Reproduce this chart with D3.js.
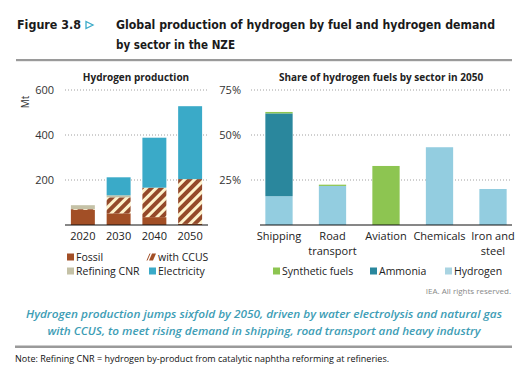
<!DOCTYPE html>
<html>
<head>
<meta charset="utf-8">
<script src="https://cdn.jsdelivr.net/npm/d3@7"></script>
<style>
  html, body { margin: 0; padding: 0; background: #fff; }
  svg { display: block; font-family: "Open Sans", sans-serif; }
</style>
</head>
<body>
<div id="chart"></div>
<script>
// ---- data ----
const years = ["2020", "2030", "2040", "2050"];
const fossil = [68, 52, 35, 5];
const ccus = [3, 71, 131, 199];
const refiningCnr = [17, 9, 0, 0];
const electricity = [0, 80, 222, 324];
const prodTicks = [200, 400, 600];

const sectors = ["Shipping", "Road\ntransport", "Aviation", "Chemicals", "Iron and\nsteel"];
const hydrogenShare = [16, 21.7, 0, 43.2, 20];
const ammoniaShare = [46, 0, 0, 0, 0];
const syntheticShare = [0.8, 0.7, 32.8, 0, 0];
const shareTicks = [25, 50, 75];

const W = 524, H = 370;
const svg = d3.select("#chart").append("svg")
    .attr("width", W).attr("height", H);

// hatch pattern for "with CCUS"
const defs = svg.append("defs");
const pat = defs.append("pattern")
    .attr("id", "hatch")
    .attr("patternUnits", "userSpaceOnUse")
    .attr("width", 7).attr("height", 7)
    .attr("patternTransform", "rotate(45)");
pat.append("rect").attr("width", 7).attr("height", 7).attr("fill", "#fdf2cc");
pat.append("rect").attr("width", 4).attr("height", 7).attr("fill", "#94492a");

// --- header ---
svg.append("text").attr("x", 17).attr("y", 29)
    .style("font-family", "'DejaVu Sans', sans-serif")
    .style("font-weight", "bold").style("font-size", "11.5px").attr("fill", "#1a1a1a")
    .attr("textLength", 64).attr("lengthAdjust", "spacingAndGlyphs")
    .text("Figure 3.8");
svg.append("path").attr("d", "M86,21.5 L93,25 L86,28.5 Z")
    .attr("fill", "none").attr("stroke", "#3aaac8").attr("stroke-width", 1.3);
const titleLines = ["Global production of hydrogen by fuel and hydrogen demand", "by sector in the NZE"];
svg.append("text").attr("x", 116).attr("y", 29)
    .style("font-family", "'DejaVu Sans', sans-serif")
    .style("font-weight", "bold").style("font-size", "11.5px").attr("fill", "#1a1a1a")
    .attr("textLength", 379).attr("lengthAdjust", "spacingAndGlyphs")
    .text(titleLines[0]);
svg.append("text").attr("x", 116).attr("y", 49)
    .style("font-family", "'DejaVu Sans', sans-serif")
    .style("font-weight", "bold").style("font-size", "11.5px").attr("fill", "#1a1a1a")
    .attr("textLength", 119).attr("lengthAdjust", "spacingAndGlyphs")
    .text(titleLines[1]);
svg.append("rect").attr("x", 16).attr("y", 59).attr("width", 496).attr("height", 2.2).attr("fill", "#9a9a9a");

const base = 225;

// --- left panel: hydrogen production ---
const x1 = d3.scaleBand().domain(years).range([65, 208]).paddingInner(0.33).paddingOuter(0.165);
const y1 = d3.scaleLinear().domain([0, 600]).range([base, 90]);

svg.append("text").attr("x", 136).attr("y", 81).attr("text-anchor", "middle")
    .style("font-weight", "bold").style("font-size", "10px").attr("fill", "#222")
    .text("Hydrogen production");

svg.append("g").selectAll("line").data(prodTicks).join("line")
    .attr("x1", 65).attr("x2", 207)
    .attr("y1", d => y1(d)).attr("y2", d => y1(d))
    .attr("stroke", "#888").attr("stroke-width", 0.8).attr("stroke-dasharray", "1,2");

svg.append("g").selectAll("text").data(prodTicks).join("text")
    .attr("x", 54).attr("y", d => y1(d) + 4).attr("text-anchor", "end")
    .style("font-size", "11px").attr("fill", "#333").text(d => d);

svg.append("text").attr("transform", "translate(29,102) rotate(-90)")
    .attr("text-anchor", "middle").style("font-size", "10px").attr("fill", "#333").text("Mt");

const prodSeries = [
  { key: "fossil", vals: fossil, fill: "#a24f26" },
  { key: "ccus", vals: ccus, fill: "url(#hatch)" },
  { key: "cnr", vals: refiningCnr, fill: "#c4c1a6" },
  { key: "elec", vals: electricity, fill: "#3aaac8" }
];
const prodRows = years.map((y, i) => {
  const r = { year: y };
  prodSeries.forEach(s => r[s.key] = s.vals[i]);
  return r;
});
const prodStack = d3.stack().keys(prodSeries.map(s => s.key))(prodRows);

svg.append("g").selectAll("g").data(prodStack).join("g")
    .attr("fill", (d, i) => prodSeries[i].fill)
  .selectAll("rect").data(d => d).join("rect")
    .attr("x", d => x1(d.data.year))
    .attr("width", x1.bandwidth())
    .attr("y", d => y1(d[1]))
    .attr("height", d => y1(d[0]) - y1(d[1]));

svg.append("line").attr("x1", 65).attr("x2", 208).attr("y1", base).attr("y2", base)
    .attr("stroke", "#111").attr("stroke-width", 1.2);

svg.append("g").selectAll("text").data(years).join("text")
    .attr("x", d => x1(d) + x1.bandwidth() / 2).attr("y", 240)
    .attr("text-anchor", "middle").style("font-size", "11px").attr("fill", "#222")
    .text(d => d);

// left legend
const legL = [
  { label: "Fossil", fill: "#a24f26", x: 67, y: 257 },
  { label: "with CCUS", fill: "hatch", x: 149, y: 257 },
  { label: "Refining CNR", fill: "#c4c1a6", x: 67, y: 271 },
  { label: "Electricity", fill: "#3aaac8", x: 149, y: 271 }
];
const gl = svg.append("g").selectAll("g").data(legL).join("g")
    .attr("transform", d => `translate(${d.x},${d.y})`);
gl.each(function(d) {
  const g = d3.select(this);
  if (d.fill === "hatch") {
    g.append("path").attr("d", "M0,3.5 L3,-3.5 L7,-3.5 L4,3.5 Z").attr("fill", "#a24f26");
    g.append("path").attr("d", "M-2,3.5 L1,-3.5").attr("stroke", "#a24f26").attr("stroke-width", 1);
  } else {
    g.append("rect").attr("x", 0).attr("y", -3.5).attr("width", 7).attr("height", 7).attr("fill", d.fill);
  }
  g.append("text").attr("x", 9).attr("y", 4).style("font-size", "10.5px").attr("fill", "#222").text(d.label);
});

// --- right panel: share by sector ---
const x2 = d3.scaleBand().domain(sectors).range([260, 512]).paddingInner(0.49).paddingOuter(0.1);
const y2 = d3.scaleLinear().domain([0, 75]).range([base, 90]);

svg.append("text").attr("x", 381).attr("y", 81).attr("text-anchor", "middle")
    .style("font-weight", "bold").style("font-size", "10px").attr("fill", "#222")
    .text("Share of hydrogen fuels by sector in 2050");

svg.append("g").selectAll("line").data(shareTicks).join("line")
    .attr("x1", 251).attr("x2", 512)
    .attr("y1", d => y2(d)).attr("y2", d => y2(d))
    .attr("stroke", "#888").attr("stroke-width", 0.8).attr("stroke-dasharray", "1,2");

svg.append("g").selectAll("text").data(shareTicks).join("text")
    .attr("x", 241).attr("y", d => y2(d) + 4).attr("text-anchor", "end")
    .style("font-size", "11px").attr("fill", "#333").text(d => d + "%");

const shareSeries = [
  { key: "hydrogen", vals: hydrogenShare, fill: "#93cde0" },
  { key: "ammonia", vals: ammoniaShare, fill: "#2a879d" },
  { key: "synthetic", vals: syntheticShare, fill: "#8dc551" }
];
const shareRows = sectors.map((s, i) => {
  const r = { sector: s };
  shareSeries.forEach(k => r[k.key] = k.vals[i]);
  return r;
});
const shareStack = d3.stack().keys(shareSeries.map(s => s.key))(shareRows);

svg.append("g").selectAll("g").data(shareStack).join("g")
    .attr("fill", (d, i) => shareSeries[i].fill)
  .selectAll("rect").data(d => d).join("rect")
    .attr("x", d => x2(d.data.sector))
    .attr("width", x2.bandwidth())
    .attr("y", d => y2(d[1]))
    .attr("height", d => y2(d[0]) - y2(d[1]));

svg.append("line").attr("x1", 260).attr("x2", 512).attr("y1", base).attr("y2", base)
    .attr("stroke", "#111").attr("stroke-width", 1.2);

const xl = svg.append("g").selectAll("text").data(sectors).join("text")
    .attr("x", d => x2(d) + x2.bandwidth() / 2).attr("y", 240)
    .attr("text-anchor", "middle").style("font-size", "11px").attr("fill", "#222");
xl.selectAll("tspan").data(d => d.split("\n")).join("tspan")
    .attr("x", function() { return d3.select(this.parentNode).attr("x"); })
    .attr("dy", (d, i) => i === 0 ? 0 : 14.5)
    .text(d => d);

// right legend
const legR = [
  { label: "Synthetic fuels", fill: "#8dc551", x: 273 },
  { label: "Ammonia", fill: "#2a879d", x: 370 },
  { label: "Hydrogen", fill: "#a9d4e2", x: 445 }
];
const gr = svg.append("g").selectAll("g").data(legR).join("g")
    .attr("transform", d => `translate(${d.x},271)`);
gr.append("rect").attr("y", -3.5).attr("width", 7).attr("height", 7).attr("fill", d => d.fill);
gr.append("text").attr("x", 9).attr("y", 4).style("font-size", "10.5px").attr("fill", "#222").text(d => d.label);

svg.append("text").attr("x", 511).attr("y", 294).attr("text-anchor", "end")
    .style("font-size", "8px").attr("fill", "#888").text("IEA. All rights reserved.");

// caption
const caption = [
  "Hydrogen production jumps sixfold by 2050, driven by water electrolysis and natural gas",
  "with CCUS, to meet rising demand in shipping, road transport and heavy industry"
];
const capW = [476, 433];
svg.append("g").selectAll("text").data(caption).join("text")
    .attr("x", 264).attr("y", (d, i) => 318 + i * 16.5).attr("text-anchor", "middle")
    .attr("textLength", (d, i) => capW[i]).attr("lengthAdjust", "spacingAndGlyphs")
    .style("font-style", "italic").style("font-weight", "600").style("font-size", "10px")
    .attr("fill", "#3d9db5").text(d => d);

svg.append("rect").attr("x", 15).attr("y", 345.5).attr("width", 497).attr("height", 2.5).attr("fill", "#9a9a9a");

svg.append("text").attr("x", 15).attr("y", 362)
    .style("font-size", "9px").attr("fill", "#111")
    .text("Note: Refining CNR = hydrogen by-product from catalytic naphtha reforming at refineries.");
</script>
</body>
</html>
